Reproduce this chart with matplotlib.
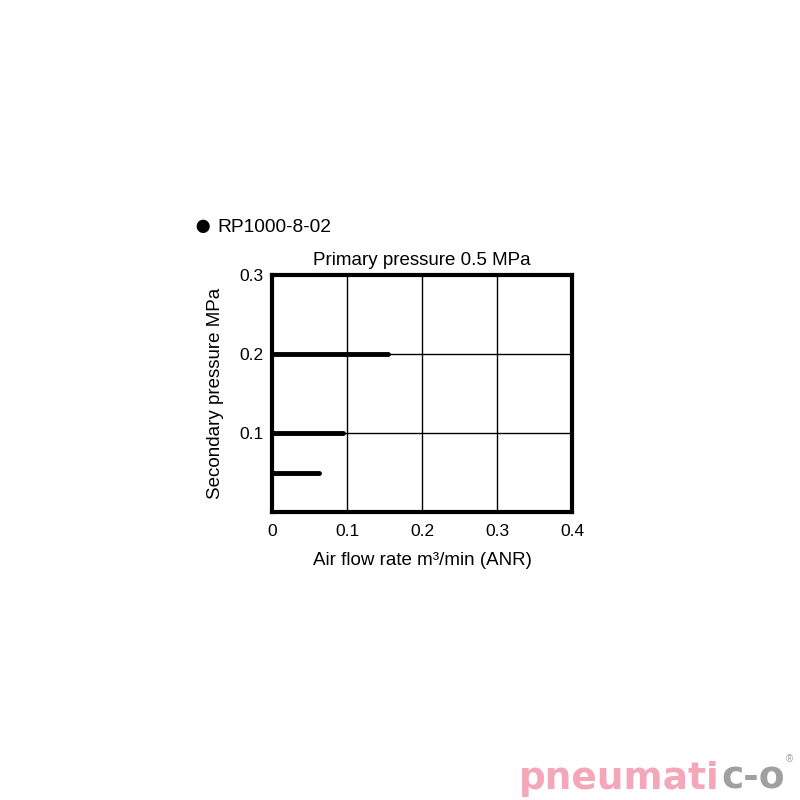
import matplotlib
matplotlib.use('Agg')
import matplotlib.pyplot as plt

plt.rcParams['font.family'] = ['Liberation Sans', 'DejaVu Sans']

# Flow curves at each set secondary pressure
flow_02 = [0.0, 0.04, 0.09, 0.12, 0.155]
press_02 = [0.2, 0.2, 0.2, 0.2, 0.2]
flow_01 = [0.0, 0.03, 0.06, 0.095]
press_01 = [0.1, 0.1, 0.1, 0.1]
flow_005 = [0.0, 0.03, 0.063]
press_005 = [0.05, 0.05, 0.05]

xticks = [0, 0.1, 0.2, 0.3, 0.4]
xtick_labels = ['0', '0.1', '0.2', '0.3', '0.4']
yticks = [0.1, 0.2, 0.3]
ytick_labels = ['0.1', '0.2', '0.3']

fig = plt.figure(figsize=(8, 8), dpi=100)
ax = fig.add_axes([0.34, 0.36, 0.375, 0.296])

for x, y in [(flow_02, press_02), (flow_01, press_01), (flow_005, press_005)]:
    ax.plot(x, y, color='black', linewidth=3.5, solid_capstyle='round', zorder=3)

ax.set_xlim(0, 0.4)
ax.set_ylim(0, 0.3)
ax.set_xticks(xticks)
ax.set_xticklabels(xtick_labels)
ax.set_yticks(yticks)
ax.set_yticklabels(ytick_labels)
ax.tick_params(axis='y', length=0, labelsize=12.5, pad=6)
ax.tick_params(axis='x', length=0, labelsize=12.5, pad=9)
ax.grid(True, color='black', linewidth=1)
for s in ax.spines.values():
    s.set_linewidth(3)

ax.set_xlabel('Air flow rate m³/min (ANR)', fontsize=13.5, labelpad=9)
ax.set_ylabel('Secondary pressure MPa', fontsize=13.5, labelpad=11)
ax.set_title('Primary pressure 0.5 MPa', fontsize=13.5, pad=7)

fig.text(0.242, 0.716, '\u25CF', fontsize=22, va='center', ha='left')
fig.text(0.272, 0.716, 'RP1000-8-02', fontsize=13.8, va='center', ha='left')

# logo
fig.canvas.draw()
r = fig.canvas.get_renderer()
t1 = fig.text(0.649, 0.004, 'pneumati', fontsize=27, fontweight='bold',
              family='DejaVu Sans', color='#f4a7b9', ha='left', va='bottom')
bb = t1.get_window_extent(renderer=r)
x2 = bb.x1 / fig.bbox.width + 0.002
t2 = fig.text(x2, 0.004, 'c-o', fontsize=27, fontweight='bold',
              family='DejaVu Sans', color='#a0a0a0', ha='left', va='bottom')
bb2 = t2.get_window_extent(renderer=r)
fig.text(bb2.x1 / fig.bbox.width + 0.001, 0.045, '®', fontsize=7, color='#a0a0a0', ha='left', va='bottom')

fig.savefig('out.png', dpi=100)
